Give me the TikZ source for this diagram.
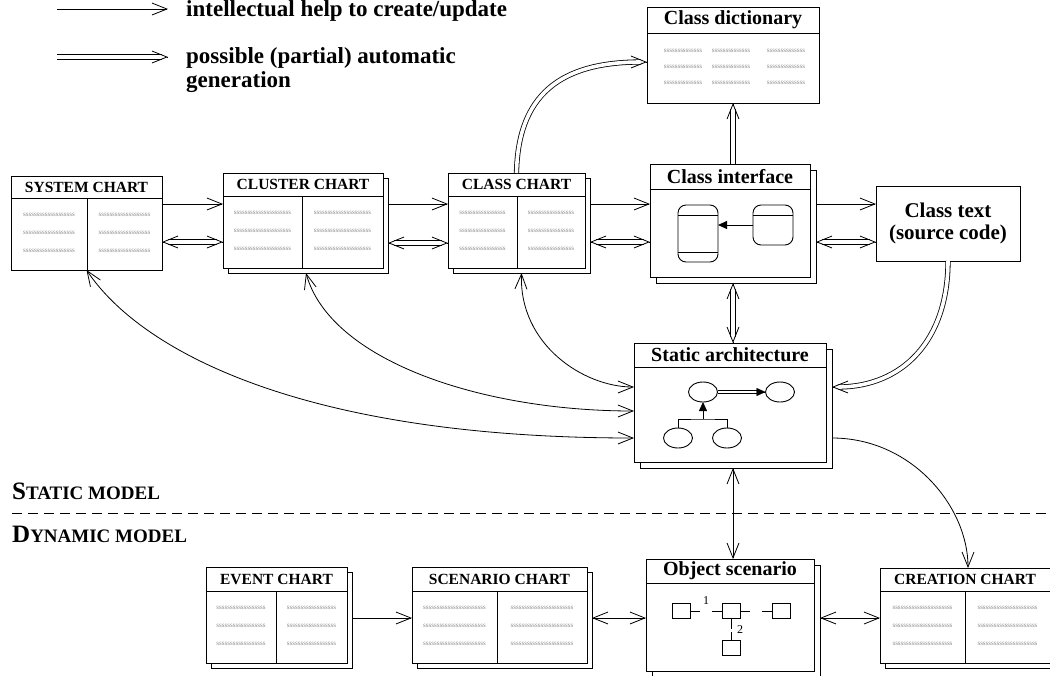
\documentclass[tikz,border=0pt]{standalone}
\usepackage{fontspec}
\setmainfont{Liberation Serif}
\usetikzlibrary{arrows.meta,calc,shapes.geometric}

% row of grey placeholder letters
\newcount\sscount
\newcommand\fillS[1]{\sscount=0 \loop s\advance\sscount 1 \ifnum\sscount<#1 \repeat}

\tikzset{
  edge/.style={line width=0.9pt},
  frame/.style={draw, line width=0.9pt, fill=white, inner sep=0pt, outer sep=0pt, anchor=north west},
  conn/.style={line width=0.8pt},
  vtip/.style={-{Straight Barb[length=15pt,width=12pt]}},
  vtips/.style={{Straight Barb[length=15pt,width=12pt]}-{Straight Barb[length=15pt,width=12pt]}},
  dbl/.style={line width=0.8pt, double=white, double distance=3.6pt},
  capsfont/.style={font=\bfseries\fontsize{15.5}{18}\selectfont},
  headfont/.style={font=\bfseries\fontsize{20}{22}\selectfont},
  filltext/.style={font=\fontsize{7}{7}\selectfont, text=black!45, inner sep=0pt},
  icon/.style={draw, line width=0.9pt, inner sep=0pt, outer sep=0pt},
}

% panel: #1 name, #2 x, #3 y, #4 width, #5 height, #6 title bar height,
%        #7 shadow offset, #8 title style, #9 title
\newcommand\panel[9]{%
  \ifnum#7>0
    \node[frame, minimum width=#4pt, minimum height=#5pt] (#1s) at ({#2+#7},{#3+#7}) {};
  \else
    \node[frame, draw=none, fill=none, minimum width=#4pt, minimum height=#5pt] (#1s) at (#2,#3) {};
  \fi
  \node[frame, minimum width=#4pt, minimum height=#5pt] (#1) at (#2,#3) {};
  \draw[edge] ([yshift=-#6pt]#1.north west) -- ([yshift=-#6pt]#1.north east);
  \node[#8, inner sep=0pt] (#1t) at ([yshift=-#6pt/2]#1.north) {#9};
}

% two columns of placeholder rows: #1 x, #2 y, #3 width, #4 bar, #5 divider x,
%   #6 name, #7 letters left, #8 letters right
\newcommand\twocol[8]{%
  \draw[edge] (#5,{#2+#4}) -- (#5,0 |- #6.south);
  \foreach \r in {17,35,53} {
    \node[filltext] (#6l\r) at ({(#1+#5)/2},{#2+#4+\r}) {\fillS{#7}};
    \node[filltext] (#6r\r) at ({(#5+#1+#3)/2},{#2+#4+\r}) {\fillS{#8}};
  }
}

% open arrow head for a double line ending at #1, coming from direction #2
\newcommand\tipat[2]{\draw[conn, vtip] ($(#1)+(#2)$) -- (#1);}

\begin{document}
\begin{tikzpicture}[x=1pt, y=-1pt]
\useasboundingbox (0,0) rectangle (1050,675);
\clip (0,0) rectangle (1050,675);

% ---------- legend ----------
\coordinate (l1a) at (57,9);
\coordinate (l1b) at (168,9);
\draw[conn, vtip] (l1a) -- (l1b);
\node[anchor=base west, inner sep=0pt, font=\bfseries\fontsize{23}{23}\selectfont] (l1t) at (186,16) {intellectual help to create/update};
\coordinate (l2a) at (57,57);
\coordinate (l2b) at (168,57);
\draw[dbl, shorten >=6pt] (l2a) -- (l2b);
\tipat{l2b}{-1,0}
\node[anchor=base west, inner sep=0pt, align=left, font=\bfseries\fontsize{23}{24}\selectfont] (l2t) at (186,87) {possible (partial) automatic\\generation};

% ---------- static model ----------
\panel{sys}{11}{176}{151}{94}{22}{0}{capsfont}{SYSTEM CHART}
\twocol{11}{176}{151}{22}{87}{sys}{19}{19}
\panel{clu}{223}{173}{160}{95}{23}{5}{capsfont}{CLUSTER CHART}
\twocol{223}{173}{160}{23}{302}{clu}{21}{21}
\panel{cls}{448}{173}{137}{95}{23}{5}{capsfont}{CLASS CHART}
\twocol{448}{173}{137}{23}{517}{cls}{17}{17}

\panel{dict}{647}{7}{172}{96}{26}{0}{headfont}{Class dictionary}
\foreach \cx/\cn in {683/a,731/b,786/c}
  \foreach \cy in {51,67,83}
    \node[filltext] (dict\cn\cy) at (\cx,\cy) {\fillS{14}};

\panel{ci}{650}{164}{160}{113}{25}{6}{headfont}{Class interface}
\node[icon, rounded corners=8pt, minimum width=40pt, minimum height=57pt] (lrec) at (698,233.5) {};
\node[icon, rounded corners=8pt, minimum width=40pt, minimum height=40pt] (rrec) at (773,225) {};
\draw[edge] ([yshift=-10pt]lrec.north west) -- ([yshift=-10pt]lrec.north east);
\draw[edge] ([yshift=10pt]lrec.south west) -- ([yshift=10pt]lrec.south east);
\draw[edge] ([yshift=-10pt]rrec.north west) -- ([yshift=-10pt]rrec.north east);
\draw[conn, -{Triangle[length=9pt,width=8pt]}] (rrec.west) -- (lrec.east |- rrec.west);

\node[frame, minimum width=144pt, minimum height=75pt] (ct) at (876,186) {};
\node[align=center, font=\bfseries\fontsize{21}{22}\selectfont] (ctt) at (ct.center) {Class text\\(source code)};

\panel{sa}{634}{343}{192}{119}{24}{6}{headfont}{Static architecture}
\node[icon, ellipse, minimum width=29pt, minimum height=20pt] (e1) at (703,392) {};
\node[icon, ellipse, minimum width=29pt, minimum height=20pt] (e2) at (780,392) {};
\node[icon, ellipse, minimum width=29pt, minimum height=20pt] (e3) at (678,438) {};
\node[icon, ellipse, minimum width=29pt, minimum height=20pt] (e4) at (727,438) {};
\draw[line width=0.7pt, double=white, double distance=2pt, shorten >=7pt] (e1.east) -- (e2.west);
\draw[-{Triangle[length=9pt,width=8pt]}] ($(e2.west)+(-1,0)$) -- (e2.west);
\coordinate (fork) at (e1.south |- 0,419);
\draw[edge] (e3.north) |- (fork) -| (e4.north);
\draw[conn, -{Triangle[length=9pt,width=8pt]}] (fork) -- (e1.south);

% connectors of the static model
\draw[conn, vtip] (sys.east |- 0,204) -- (clu.west |- 0,204);
\draw[dbl, shorten <=6pt, shorten >=6pt] (sys.east |- 0,242) coordinate (a1) -- (clu.west |- 0,242) coordinate (b1);
\tipat{a1}{1,0} \tipat{b1}{-1,0}
\draw[conn, vtip] (clus.east |- 0,204) -- (cls.west |- 0,204);
\draw[dbl, shorten <=6pt, shorten >=6pt] (clus.east |- 0,243) coordinate (a2) -- (cls.west |- 0,243) coordinate (b2);
\tipat{a2}{1,0} \tipat{b2}{-1,0}
\draw[conn, vtip] (clss.east |- 0,204) -- (ci.west |- 0,204);
\draw[dbl, shorten <=6pt, shorten >=6pt] (clss.east |- 0,242) coordinate (a3) -- (ci.west |- 0,242) coordinate (b3);
\tipat{a3}{1,0} \tipat{b3}{-1,0}
\draw[conn, vtip] (cis.east |- 0,204) -- (ct.west |- 0,204);
\draw[dbl, shorten <=6pt, shorten >=6pt] (cis.east |- 0,242) coordinate (a4) -- (ct.west |- 0,242) coordinate (b4);
\tipat{a4}{1,0} \tipat{b4}{-1,0}

\coordinate (dictIn) at (dict.west |- 0,62);
\draw[dbl, shorten >=6pt] (cls.north) .. controls (518,95) and (560,62) .. (dictIn);
\tipat{dictIn}{-1,0}

\coordinate (ciTop) at (dict.south |- ci.north);
\draw[dbl, shorten >=6pt] (ciTop) -- (dict.south);
\tipat{dict.south}{0,1}

\coordinate (ciBot) at (dict.south |- cis.south);
\coordinate (saTop) at (dict.south |- sa.north);
\draw[dbl, shorten <=6pt, shorten >=6pt] (ciBot) -- (saTop);
\tipat{ciBot}{0,1} \tipat{saTop}{0,-1}

\coordinate (saR) at (sas.east |- 0,387);
\draw[dbl, shorten >=6pt] (ct.south) .. controls (948,341) and (902,387) .. (saR);
\tipat{saR}{1,0}

\coordinate (saL1) at (sa.west |- 0,387);
\coordinate (saL2) at (sa.west |- 0,411);
\coordinate (saL3) at (sa.west |- 0,438);
\draw[conn, vtips] (clss.south) .. controls (519,345) and (584,387) .. (saL1);
\draw[conn, vtips] ([xshift=-2pt]clus.south) .. controls (330,360) and (480,411) .. (saL2);
\draw[conn, vtips] (sys.south) .. controls (140,350) and (300,438) .. (saL3);

\coordinate (saOut) at (sas.east |- 0,438);

% ---------- model separation ----------
\draw[line width=0.8pt, dash pattern=on 10pt off 6pt] (12,513) coordinate (sepA) -- (1050,513) coordinate (sepB);
\node[anchor=base west, inner sep=0pt, font=\bfseries] (stl) at (12,499)
  {{\fontsize{25}{25}\selectfont S}{\fontsize{19}{19}\selectfont TATIC MODEL}};
\node[anchor=base west, inner sep=0pt, font=\bfseries] (dyl) at (12,542)
  {{\fontsize{25}{25}\selectfont D}{\fontsize{19}{19}\selectfont YNAMIC MODEL}};

% ---------- dynamic model ----------
\panel{evt}{206}{567}{141}{96}{24}{5}{capsfont}{EVENT CHART}
\twocol{206}{567}{141}{24}{276}{evt}{18}{18}
\panel{scn}{412}{567}{175}{96}{24}{5}{capsfont}{SCENARIO CHART}
\twocol{412}{567}{175}{24}{497}{scn}{23}{23}
\panel{cre}{880}{568}{170}{95}{23}{5}{capsfont}{CREATION CHART}
\twocol{880}{568}{170}{23}{965}{cre}{22}{22}

\panel{os}{646}{559}{168}{112}{24}{6}{headfont}{Object scenario}
\node[icon, minimum width=18pt, minimum height=15pt] (q1) at (681,611) {};
\node[icon, minimum width=18pt, minimum height=15pt] (q2) at (731,611) {};
\node[icon, minimum width=18pt, minimum height=15pt] (q3) at (781,611) {};
\node[icon, minimum width=18pt, minimum height=15pt] (q4) at (731,648) {};
\draw[edge] (q1.east) -- ++(10,0);
\draw[edge] (q2.west) -- ++(-10,0);
\draw[edge] (q2.east) -- ++(10,0);
\draw[edge] (q3.west) -- ++(-10,0);
\draw[edge] (q2.south) -- ++(0,10);
\draw[edge] (q4.north) -- ++(0,-9);
\node[inner sep=0pt, font=\fontsize{12}{12}\selectfont] (n1) at (706,601) {1};
\node[inner sep=0pt, font=\fontsize{12}{12}\selectfont] (n2) at (740,630) {2};

\draw[conn, vtip] (saOut) .. controls (912,438) and (968,507) .. ([xshift=3pt]cre.north);
\draw[conn, vtips] (dict.south |- sas.south) -- (dict.south |- os.north);
\draw[conn, vtip] (evts.east |- 0,618) -- (scn.west |- 0,618);
\draw[conn, vtips] (scns.east |- 0,618) -- (os.west |- 0,618);
\draw[conn, vtips] (oss.east |- 0,618) -- (cre.west |- 0,618);

\end{tikzpicture}
\end{document}
